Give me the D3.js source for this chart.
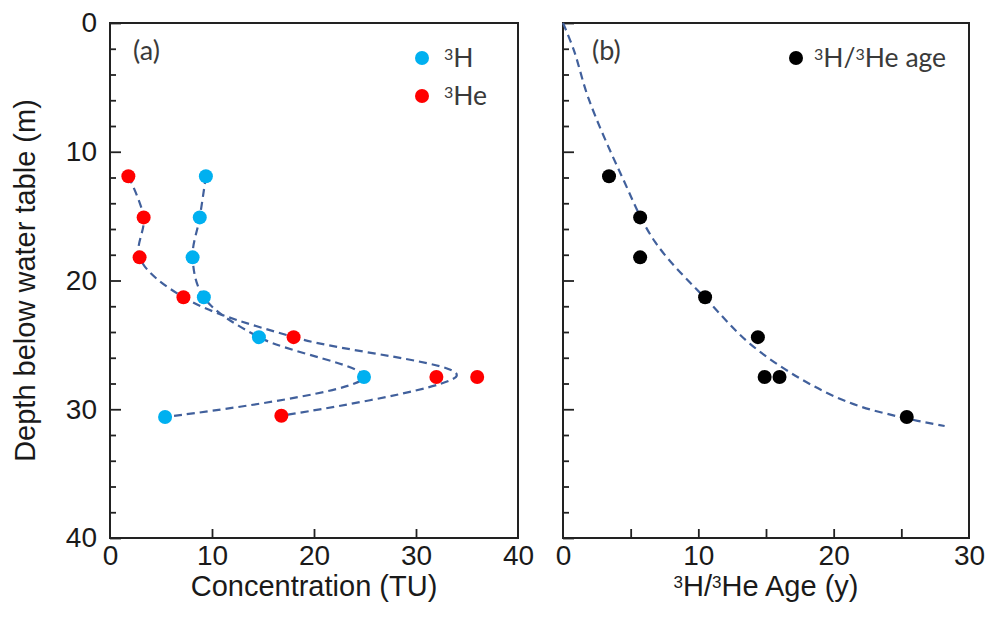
<!DOCTYPE html>
<html>
<head>
<meta charset="utf-8">
<script src="https://cdn.jsdelivr.net/npm/d3@7"></script>
<style>
  body { margin: 0; background: #fff; }
  svg { display: block; }
  .tick text { font-family: "Liberation Sans", Arial, sans-serif; font-size: 28px; fill: #1a1a1a; }
  .tick line { stroke: #222; stroke-width: 1.8; }
</style>
</head>
<body>
<div id="chart"></div>
<script>
// depth (m) of the sampled points
const depthH = [11.9, 15.1, 18.2, 21.3, 24.4, 27.5, 30.6];
const tritium = [9.4, 8.8, 8.1, 9.2, 14.6, 24.9, 5.4];
const depthHe = [11.9, 15.1, 18.2, 21.3, 24.4, 27.5, 27.5, 30.5];
const helium3 = [1.8, 3.3, 2.9, 7.2, 18.0, 32.0, 36.0, 16.8];
// dashed fit for 3He
const heFitDepth = [11.9, 15.1, 18.2, 21.3, 24.4, 27.35, 30.5];
const heFit = [1.8, 3.3, 2.9, 7.2, 18.0, 34.0, 16.8];
// panel b
const ageDepth = [11.9, 15.1, 18.2, 21.3, 24.4, 27.5, 27.5, 30.6];
const ages = [3.4, 5.7, 5.7, 10.5, 14.4, 14.9, 16.0, 25.4];
const ageFit = [0, 0.8, 1.9, 4.3, 6.8, 10.9, 13.8, 17.5, 21.2, 24.9, 28.2];
const ageFitDepth = [0, 2.1, 5.9, 11.8, 17.0, 21.8, 24.9, 27.6, 29.5, 30.6, 31.3];

const depthTicks = [0, 10, 20, 30, 40];
const concTicks = [0, 10, 20, 30, 40];
const ageTicks = [0, 10, 20, 30];

let width = 992, height = 636;
let plotTop = 23, plotBottom = 538;

let svg = d3.select('#chart')
    .append('svg')
    .attr('width', width)
    .attr('height', height);

let yScale = d3.scaleLinear().domain([0, 40]).range([plotTop, plotBottom]);
let xA = d3.scaleLinear().domain([0, 40]).range([110, 518]);
let xB = d3.scaleLinear().domain([0, 30]).range([563, 969]);

const minorDepth = d3.range(0, 41, 2).filter(d => d % 10 != 0);

const lineColor = '#41609c';
const fontText = '"Liberation Sans", Arial, sans-serif';
const fontLabel = 'Lato, "Open Sans", sans-serif';

function drawPanel(x, xTicks, xMinor, showY) {
    let g = svg.append('g');

    // left axis, ticks point inward
    let ly = g.append('g')
        .attr('transform', `translate(${x.range()[0]},0)`)
        .call(d3.axisLeft(yScale).tickValues(depthTicks).tickSize(-11).tickPadding(13)
            .tickFormat(showY ? d3.format('d') : ''));
    ly.select('.domain').remove();

    let lyMinor = g.append('g')
        .attr('transform', `translate(${x.range()[0]},0)`)
        .call(d3.axisLeft(yScale).tickValues(minorDepth).tickSize(-6).tickFormat(''));
    lyMinor.select('.domain').remove();

    // bottom axis
    let bx = g.append('g')
        .attr('transform', `translate(0,${plotBottom})`)
        .call(d3.axisBottom(x).tickValues(xTicks).tickSize(0).tickPadding(7));
    bx.select('.domain').remove();

    let bxIn = g.append('g')
        .attr('transform', `translate(0,${plotBottom})`)
        .call(d3.axisBottom(x).tickValues(xMinor).tickSize(-9).tickFormat(''));
    bxIn.select('.domain').remove();

    // frame
    g.append('rect')
        .attr('x', x.range()[0])
        .attr('y', plotTop)
        .attr('width', x.range()[1] - x.range()[0])
        .attr('height', plotBottom - plotTop)
        .attr('fill', 'none')
        .attr('stroke', '#222')
        .attr('stroke-width', 2);
    return g;
}

drawPanel(xA, concTicks, [10, 20, 30], true);
drawPanel(xB, ageTicks, [5, 10, 15, 20, 25], false);

// dashed lines
let line = (x) => d3.line()
    .x(d => x(d[0]))
    .y(d => yScale(d[1]))
    .curve(d3.curveCatmullRom.alpha(0.5));

function dashed(x, xs, ys) {
    svg.append('path')
        .datum(xs.map((v, i) => [v, ys[i]]))
        .attr('d', line(x))
        .attr('fill', 'none')
        .attr('stroke', lineColor)
        .attr('stroke-width', 2.2)
        .attr('stroke-dasharray', '8,5');
}

dashed(xA, tritium, depthH);
dashed(xA, heFit, heFitDepth);
dashed(xB, ageFit, ageFitDepth);

// points
function dots(x, xs, ys, color) {
    svg.append('g').selectAll('circle')
        .data(xs.map((v, i) => [v, ys[i]]))
        .enter()
        .append('circle')
        .attr('cx', d => x(d[0]))
        .attr('cy', d => yScale(d[1]))
        .attr('r', 7)
        .attr('fill', color);
}

dots(xA, tritium, depthH, '#00b0f0');
dots(xA, helium3, depthHe, '#ff0000');
dots(xB, ages, ageDepth, '#000');

// panel labels
svg.append('text').attr('x', 133).attr('y', 60)
    .style('font-family', fontLabel).style('font-size', '27px').attr('fill', '#3a3a3a')
    .text('(a)');
svg.append('text').attr('x', 592).attr('y', 60)
    .style('font-family', fontLabel).style('font-size', '27px').attr('fill', '#3a3a3a')
    .text('(b)');

// legend text with superscripts
function legendText(x, y, parts) {
    let t = svg.append('text').attr('x', x).attr('y', y)
        .style('font-family', fontLabel).style('font-size', '26.5px').attr('fill', '#3a3a3a');
    parts.forEach(p => {
        t.append('tspan')
            .attr('baseline-shift', p.sup ? '45%' : null)
            .style('font-size', p.sup ? '16px' : null)
            .text(p.s);
    });
    return t;
}

svg.append('circle').attr('cx', 422).attr('cy', 58).attr('r', 7).attr('fill', '#00b0f0');
svg.append('circle').attr('cx', 422).attr('cy', 96).attr('r', 7).attr('fill', '#ff0000');
legendText(444, 67, [{s: '3', sup: true}, {s: 'H'}]);
legendText(444, 105, [{s: '3', sup: true}, {s: 'He'}]);

svg.append('circle').attr('cx', 796).attr('cy', 58).attr('r', 7).attr('fill', '#000');
legendText(814, 67, [{s: '3', sup: true}, {s: 'H/'}, {s: '3', sup: true}, {s: 'He age'}]);

// axis titles
svg.append('text')
    .attr('x', 314).attr('y', 596)
    .attr('text-anchor', 'middle')
    .style('font-family', fontText).style('font-size', '29px').attr('fill', '#1a1a1a')
    .text('Concentration (TU)');

let ageTitle = svg.append('text')
    .attr('x', 766).attr('y', 596)
    .attr('text-anchor', 'middle')
    .style('font-family', fontText).style('font-size', '29px').attr('fill', '#1a1a1a');
ageTitle.append('tspan').attr('baseline-shift', '45%').style('font-size', '17px').text('3');
ageTitle.append('tspan').text('H/');
ageTitle.append('tspan').attr('baseline-shift', '45%').style('font-size', '17px').text('3');
ageTitle.append('tspan').text('He Age (y)');

svg.append('text')
    .attr('transform', `translate(35,${(plotTop + plotBottom) / 2}) rotate(-90)`)
    .attr('text-anchor', 'middle')
    .style('font-family', fontText).style('font-size', '29px').attr('fill', '#1a1a1a')
    .text('Depth below water table (m)');
</script>
</body>
</html>
